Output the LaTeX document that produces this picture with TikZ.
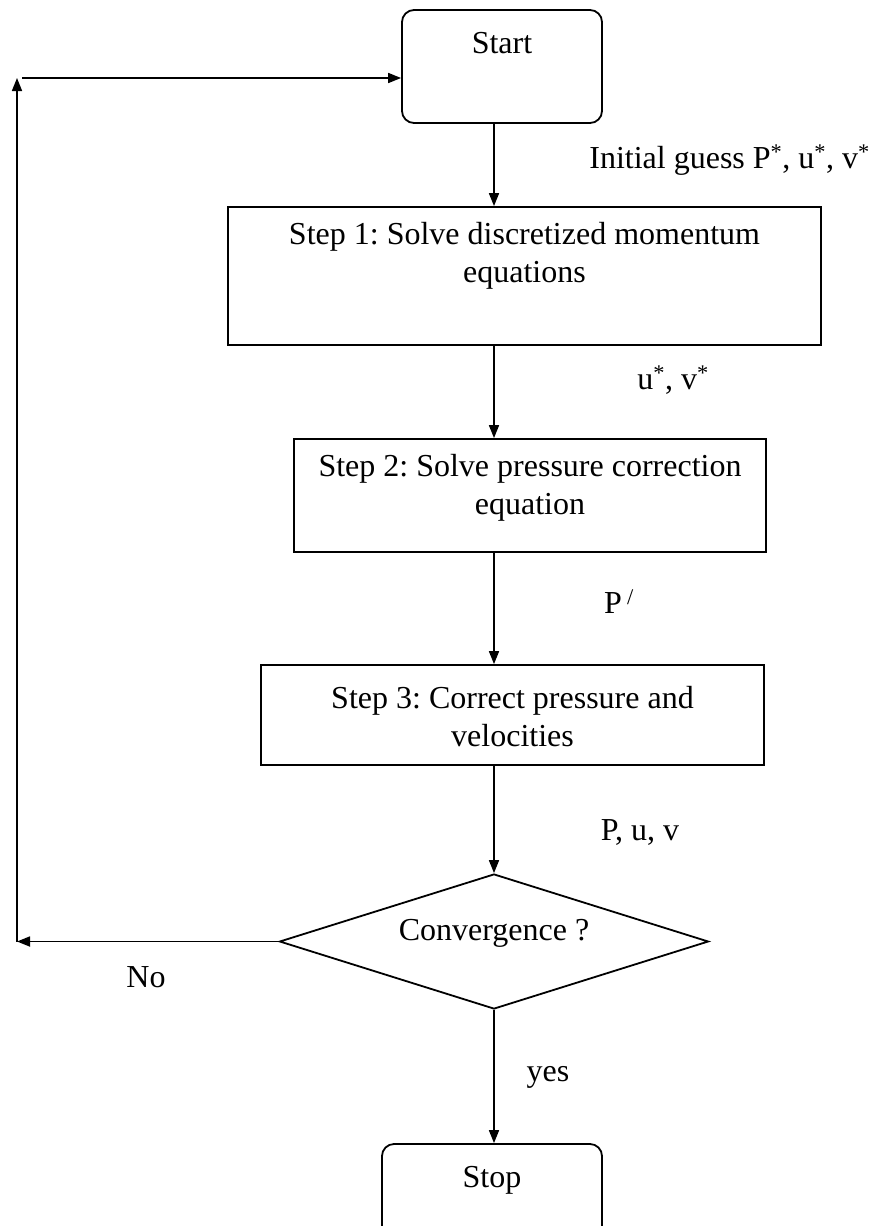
\documentclass[tikz,border=0pt]{standalone}
\usepackage{fontspec}
\setmainfont{Liberation Serif}
\usetikzlibrary{shapes.geometric,arrows.meta}
\frenchspacing
\begin{document}
\begin{tikzpicture}[x=1pt,y=-1pt,
  every node/.style={font=\fontsize{32}{38}\selectfont, inner sep=0pt},
  roundbox/.style={draw, line width=1.8pt, rounded corners=12pt, rectangle},
  stepbox/.style={draw, line width=1.8pt, rectangle},
  decision/.style={draw, line width=1.8pt, diamond},
  txt/.style={align=center},
  arr/.style={line width=1.7pt, -{Triangle[length=13pt,width=10pt]}},
]
\clip (0,0) rectangle (884,1226);
\fill[white] (0,0) rectangle (884,1226);
% boxes
\node[roundbox, minimum width=200pt, minimum height=113pt] (start) at (502,66.5) {};
\node (starttxt) at (502,43) {Start};
\node[stepbox, minimum width=593pt, minimum height=138pt] (step1) at (524.5,276) {};
\node[txt] (step1txt) at (524.5,256) {Step 1: Solve discretized momentum\\equations};
\node[stepbox, minimum width=472pt, minimum height=113pt] (step2) at (530,495.5) {};
\node[txt] (step2txt) at (530,488) {Step 2: Solve pressure correction\\equation};
\node[stepbox, minimum width=503pt, minimum height=100pt] (step3) at (512.5,715) {};
\node[txt] (step3txt) at (512.5,717) {Step 3: Correct pressure and\\velocities};
\node[decision, minimum width=429pt, minimum height=135pt] (dia) at (494,941.5) {};
\node (diatxt) at (494,933) {Convergence ?};
\node[roundbox, minimum width=220pt, minimum height=100pt] (stop) at (492,1194) {};
\node (stoptxt) at (492,1180) {Stop};
% corners of the loop
\coordinate (nocorner) at (17,941.5);
\coordinate (topcorner) at (17,78);
% connectors
\draw[arr] (start.south -| dia) -- (step1.north -| dia);
\draw[arr] (step1.south -| dia) -- (step2.north -| dia);
\draw[arr] (step2.south -| dia) -- (step3.north -| dia);
\draw[arr] (step3.south -| dia) -- (dia.north);
\draw[arr] (dia.south) -- (stop.north -| dia);
\draw[arr] (dia.west) -- (nocorner);
\draw[arr] (nocorner) -- (topcorner);
\draw[arr] ([xshift=5pt]topcorner) -- (start.west |- topcorner);
% labels
\node[anchor=east] (lblinit) at (870,160) {Initial guess P\textsuperscript{*}, u\textsuperscript{*}, v\textsuperscript{*}};
\node (lbluv) at (673,380) {u\textsuperscript{*}, v\textsuperscript{*}};
\node (lblp) at (619,602) {P\,\textsuperscript{/}};
\node (lblpuv) at (640,832) {P, u, v};
\node (lblno) at (146,977) {No};
\node (lblyes) at (548,1077) {yes};
\end{tikzpicture}
\end{document}
